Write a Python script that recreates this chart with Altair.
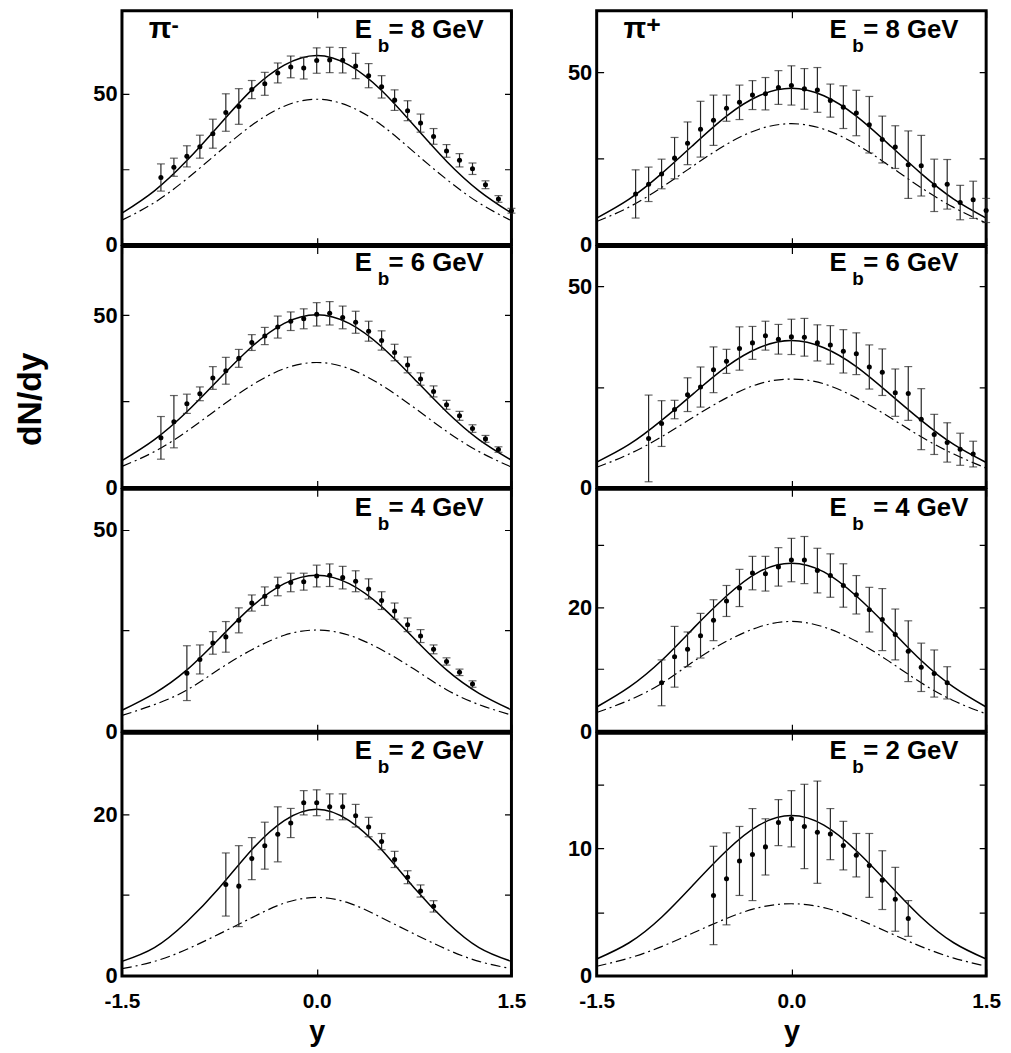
import altair as alt
import pandas as pd

FONT = "Liberation Sans"

X_CURVE = [-1.5, -1.25, -1.0, -0.75, -0.5, -0.25, 0.0, 0.25, 0.5, 0.75, 1.0, 1.25, 1.5]

# ---- pi- , Eb = 8 GeV
PIM8_X = [-1.2, -1.1, -1.0, -0.9, -0.8, -0.7, -0.6, -0.5, -0.4, -0.3, -0.2, -0.1, 0.0, 0.1,
          0.2, 0.3, 0.4, 0.5, 0.6, 0.7, 0.8, 0.9, 1.0, 1.1, 1.2, 1.3, 1.4, 1.5]
PIM8_Y = [22.2, 25.6, 29.2, 32.4, 36.7, 43.7, 45.7, 51.3, 53.2, 56.8, 58.8, 58.4, 60.9, 61.1,
          61.0, 59.1, 55.9, 52.2, 47.8, 44.3, 40.2, 35.8, 31.0, 27.9, 25.1, 19.8, 15.1, 11.2]
PIM8_E = [4.5, 3.0, 3.5, 3.8, 4.8, 6.2, 5.9, 3.0, 3.8, 3.3, 3.6, 3.6, 4.2, 4.2,
          4.2, 4.2, 4.0, 3.7, 3.4, 3.3, 3.0, 2.6, 2.1, 2.2, 1.9, 1.3, 1.1, 0.8]
PIM8_SOLID = [10.4, 17.8, 27.8, 39.6, 51.2, 59.4, 62.6, 59.4, 51.0, 39.4, 27.6, 17.8, 10.4]
PIM8_DD = [8.1, 13.9, 21.8, 30.8, 39.5, 45.8, 48.1, 45.8, 39.5, 30.6, 21.6, 13.8, 7.9]

# ---- pi+ , Eb = 8 GeV
PIP8_X = PIM8_X
PIP8_Y = [14.7, 17.5, 20.5, 25.1, 29.4, 33.5, 36.1, 39.6, 41.3, 43.4, 43.8, 45.6, 46.2, 45.2,
          44.9, 41.8, 39.9, 38.2, 34.8, 30.5, 28.3, 23.2, 22.9, 17.2, 17.5, 12.2, 13.0, 9.9]
PIP8_E = [7.0, 5.0, 4.3, 6.0, 6.2, 8.1, 7.3, 3.8, 5.0, 4.2, 4.7, 4.9, 5.7, 5.9,
          6.5, 4.8, 6.2, 6.6, 8.2, 6.8, 6.2, 9.8, 8.8, 7.6, 7.2, 5.0, 5.4, 3.5]
PIP8_SOLID = [7.7, 13.2, 20.6, 29.1, 37.3, 43.2, 45.4, 43.2, 37.3, 29.1, 20.6, 13.2, 7.7]
PIP8_DD = [6.7, 10.9, 16.6, 23.0, 29.1, 33.5, 35.1, 33.5, 29.1, 23.0, 16.5, 10.8, 6.25]

# ---- pi- , Eb = 6 GeV
PIM6_X = [-1.2, -1.1, -1.0, -0.9, -0.8, -0.7, -0.6, -0.5, -0.4, -0.3, -0.2, -0.1, 0.0, 0.1,
          0.2, 0.3, 0.4, 0.5, 0.6, 0.7, 0.8, 0.9, 1.0, 1.1, 1.2, 1.3, 1.4]
PIM6_Y = [14.4, 19.1, 24.3, 27.2, 31.8, 33.9, 37.5, 42.1, 44.0, 46.6, 48.3, 49.0, 50.3, 50.6,
          49.4, 48.0, 45.4, 42.7, 39.2, 35.6, 31.5, 27.9, 24.0, 20.8, 17.1, 14.1, 11.0]
PIM6_E = [6.2, 7.6, 2.8, 2.0, 3.3, 3.9, 2.6, 2.3, 2.5, 3.2, 2.7, 2.9, 3.4, 3.4,
          3.3, 3.2, 2.9, 2.8, 2.4, 2.3, 1.8, 1.6, 1.3, 1.3, 1.1, 1.0, 0.8]
PIM6_SOLID = [7.8, 13.9, 22.0, 31.6, 40.9, 47.7, 50.2, 47.7, 40.9, 31.6, 22.0, 13.9, 7.9]
PIM6_DD = [6.1, 10.4, 16.3, 23.2, 29.7, 34.5, 36.3, 34.5, 29.7, 23.2, 16.3, 10.4, 5.9]

# ---- pi+ , Eb = 6 GeV
PIP6_X = [-1.1, -1.0, -0.9, -0.8, -0.7, -0.6, -0.5, -0.4, -0.3, -0.2, -0.1, 0.0, 0.1,
          0.2, 0.3, 0.4, 0.5, 0.6, 0.7, 0.8, 0.9, 1.0, 1.1, 1.2, 1.3, 1.4]
PIP6_Y = [12.2, 15.9, 19.4, 23.1, 25.0, 29.3, 31.4, 34.6, 36.0, 37.8, 36.9, 37.5, 37.4,
          36.0, 35.5, 33.9, 33.3, 30.0, 28.7, 23.6, 23.4, 17.0, 13.2, 11.2, 9.5, 8.3]
PIP6_E = [10.8, 5.7, 2.3, 4.2, 5.0, 5.7, 3.0, 5.4, 4.1, 3.6, 3.7, 4.4, 4.7,
          4.5, 4.8, 5.4, 5.2, 5.5, 5.8, 5.9, 6.7, 7.6, 5.0, 4.9, 4.0, 3.2]
PIP6_SOLID = [6.3, 10.7, 16.7, 23.5, 30.1, 34.8, 36.6, 34.8, 30.1, 23.5, 16.7, 10.7, 6.2]
PIP6_DD = [5.0, 8.3, 12.6, 17.6, 22.3, 25.8, 27.0, 25.8, 22.3, 17.6, 12.6, 8.3, 4.8]

# ---- pi- , Eb = 4 GeV
PIM4_X = [-1.0, -0.9, -0.8, -0.7, -0.6, -0.5, -0.4, -0.3, -0.2, -0.1, 0.0, 0.1,
          0.2, 0.3, 0.4, 0.5, 0.6, 0.7, 0.8, 0.9, 1.0, 1.1, 1.2]
PIM4_Y = [14.4, 17.8, 21.9, 23.4, 27.5, 31.8, 33.5, 35.9, 36.9, 37.1, 38.5, 38.7,
          38.1, 37.2, 35.3, 32.4, 29.8, 26.4, 23.6, 20.3, 17.3, 14.6, 11.7]
PIM4_E = [6.8, 3.6, 2.8, 3.8, 3.1, 2.0, 2.3, 2.3, 2.3, 2.1, 2.7, 2.8,
          2.8, 2.6, 2.5, 2.2, 2.0, 1.7, 1.6, 1.1, 0.9, 0.8, 0.8]
PIM4_SOLID = [5.2, 9.4, 15.2, 23.0, 30.9, 36.6, 38.7, 36.6, 30.9, 23.0, 15.2, 9.4, 5.3]
PIM4_DD = [3.9, 6.6, 10.2, 15.4, 20.2, 23.8, 25.1, 23.8, 20.2, 15.4, 10.3, 6.6, 4.0]

# ---- pi+ , Eb = 4 GeV
PIP4_X = PIM4_X
PIP4_Y = [7.8, 12.0, 13.2, 15.4, 17.9, 21.0, 23.1, 25.5, 25.4, 26.5, 27.6, 27.6,
          25.9, 25.1, 23.5, 22.0, 19.6, 18.0, 15.6, 12.9, 10.3, 9.3, 7.8]
PIP4_E = [3.7, 4.9, 2.8, 3.6, 3.3, 2.5, 3.0, 2.7, 2.8, 3.1, 3.5, 3.8,
          3.6, 3.5, 3.5, 3.1, 3.6, 5.0, 4.1, 4.9, 3.9, 3.8, 2.6]
PIP4_SOLID = [3.9, 7.1, 11.4, 16.7, 21.8, 25.7, 27.1, 25.7, 21.8, 16.7, 11.4, 7.1, 3.9]
PIP4_DD = [3.0, 5.0, 7.7, 11.3, 14.5, 16.8, 17.7, 16.8, 14.5, 11.3, 7.8, 4.9, 2.8]

# ---- pi- , Eb = 2 GeV
PIM2_X = [-0.7, -0.6, -0.5, -0.4, -0.3, -0.2, -0.1, 0.0, 0.1, 0.2, 0.3, 0.4, 0.5,
          0.6, 0.7, 0.8, 0.9]
PIM2_Y = [11.3, 11.1, 14.5, 16.1, 17.5, 18.9, 21.4, 21.4, 20.9, 20.9, 19.8, 18.4, 16.6,
          14.4, 12.2, 10.5, 8.6]
PIM2_E = [3.9, 5.0, 2.6, 2.9, 3.4, 1.8, 1.5, 1.6, 1.6, 1.6, 1.4, 1.2, 1.0,
          1.0, 0.8, 0.75, 0.7]
PIM2_SOLID = [1.8, 3.5, 6.7, 10.9, 15.6, 19.2, 20.6, 19.2, 15.6, 10.9, 6.7, 3.5, 1.8]
PIM2_DD = [0.9, 1.8, 3.3, 5.2, 7.2, 9.0, 9.7, 9.0, 7.2, 5.2, 3.3, 1.8, 0.9]

# ---- pi+ , Eb = 2 GeV
PIP2_X = [-0.6, -0.5, -0.4, -0.3, -0.2, -0.1, 0.0, 0.1, 0.2, 0.3, 0.4, 0.5,
          0.6, 0.7, 0.8, 0.9]
PIP2_Y = [6.3, 7.6, 9.0, 9.5, 10.1, 12.0, 12.3, 11.7, 11.25, 11.1, 10.2, 9.45,
          8.65, 7.5, 6.0, 4.5]
PIP2_E = [3.85, 3.6, 2.7, 3.6, 2.2, 1.8, 2.2, 3.3, 4.0, 2.0, 1.9, 1.7,
          2.5, 2.3, 2.5, 1.4]
PIP2_SOLID = [1.33, 2.6, 4.6, 7.2, 9.8, 11.8, 12.55, 11.8, 9.8, 7.2, 4.6, 2.6, 1.33]
PIP2_DD = [0.76, 1.4, 2.3, 3.4, 4.5, 5.35, 5.65, 5.35, 4.5, 3.4, 2.3, 1.4, 0.76]

X_TICKS = [-1.5, 0.0, 1.5]
ENERGY_LABELS = ["8", "6", "4", "2"]
PARTICLES = [("\u03c0", "-"), ("\u03c0", "+")]

PANELS = [
    # row, col, x, y, err, solid, dashdot, ymax, ticks, labelled ticks
    (0, 0, PIM8_X, PIM8_Y, PIM8_E, PIM8_SOLID, PIM8_DD, 77.4, [0, 25, 50], [0, 50]),
    (0, 1, PIP8_X, PIP8_Y, PIP8_E, PIP8_SOLID, PIP8_DD, 67.9, [0, 25, 50], [0, 50]),
    (1, 0, PIM6_X, PIM6_Y, PIM6_E, PIM6_SOLID, PIM6_DD, 70, [0, 25, 50], [0, 50]),
    (1, 1, PIP6_X, PIP6_Y, PIP6_E, PIP6_SOLID, PIP6_DD, 60, [0, 25, 50], [0, 50]),
    (2, 0, PIM4_X, PIM4_Y, PIM4_E, PIM4_SOLID, PIM4_DD, 60, [0, 25, 50], [0, 50]),
    (2, 1, PIP4_X, PIP4_Y, PIP4_E, PIP4_SOLID, PIP4_DD, 39, [0, 10, 20, 30], [0, 20]),
    (3, 0, PIM2_X, PIM2_Y, PIM2_E, PIM2_SOLID, PIM2_DD, 30, [0, 10, 20], [0, 20]),
    (3, 1, PIP2_X, PIP2_Y, PIP2_E, PIP2_SOLID, PIP2_DD, 19, [0, 5, 10, 15], [0, 10]),
]

W = 393
ROW_H = [236, 243, 244, 245]
EB_BASE = [28, 25, 27, 26]
TICK_LEN = 7
BAR_COLOR = "#262626"


def text_layer(txt, x, y, size, align="left", angle=0, baseline="alphabetic"):
    return alt.Chart(pd.DataFrame({"t": [txt]})).mark_text(
        font=FONT, fontWeight="bold", fontSize=size, color="black",
        align=align, baseline=baseline, angle=angle
    ).encode(text="t:N", x=alt.value(x), y=alt.value(y))


def make_panel(row, col, xs, ys, es, solid, dd, ymax, ticks, labelled):
    H = ROW_H[row]
    bottom = row == 3
    pts = pd.DataFrame({"x": xs, "y": ys,
                        "lo": [a - b for a, b in zip(ys, es)],
                        "hi": [a + b for a, b in zip(ys, es)]})
    cur = pd.DataFrame({"x": X_CURVE, "solid": solid, "dd": dd})

    cond = " || ".join(f"datum.value == {v}" for v in labelled)
    xaxis = alt.Axis(
        values=X_TICKS, grid=True, gridColor="black", gridWidth=1.2, gridOpacity=1,
        gridDash=[TICK_LEN, H - 2 * TICK_LEN, TICK_LEN],
        ticks=False, domain=False, labels=bottom,
        labelExpr="datum.value < 0 ? '-' + format(-datum.value, '.1f') : format(datum.value, '.1f')",
        labelFont=FONT, labelFontWeight="bold", labelFontSize=21, labelColor="black",
        labelPadding=15, labelFlush=False, labelOverlap=False,
        title="y" if bottom else None, titleFont=FONT, titleFontWeight="bold",
        titleFontSize=29, titleColor="black", titlePadding=6,
    )
    yaxis = alt.Axis(
        values=ticks, grid=True, gridColor="black", gridWidth=1.2, gridOpacity=1,
        gridDash=[TICK_LEN, W - 2 * TICK_LEN, TICK_LEN],
        ticks=False, domain=False, labelExpr=f"({cond}) ? datum.label : ''",
        labelFont=FONT, labelFontWeight="bold", labelFontSize=22, labelColor="black",
        labelPadding=5, labelFlush=False, labelOverlap=False, title=None,
    )
    xs_ = alt.Scale(domain=[-1.5, 1.5], nice=False, zero=False)
    ys_ = alt.Scale(domain=[0, ymax], nice=False, zero=False)

    xenc = alt.X("x:Q", scale=xs_, axis=xaxis)

    solid_l = alt.Chart(cur).mark_line(color="black", strokeWidth=1.5, interpolate="natural", clip=True).encode(
        x=xenc, y=alt.Y("solid:Q", scale=ys_, axis=yaxis))
    dd_l = alt.Chart(cur).mark_line(color="black", strokeWidth=1.2, strokeDash=[10, 4, 2, 4],
                                    interpolate="natural", clip=True).encode(
        x=xenc, y=alt.Y("dd:Q", scale=ys_, axis=yaxis))
    bars = alt.Chart(pts).mark_rule(color=BAR_COLOR, strokeWidth=1.2).encode(
        x=xenc, y=alt.Y("lo:Q", scale=ys_, axis=yaxis), y2="hi:Q")
    cap_hi = alt.Chart(pts).mark_tick(color=BAR_COLOR, orient="horizontal", size=8, thickness=1.2).encode(
        x=xenc, y=alt.Y("hi:Q", scale=ys_, axis=yaxis))
    cap_lo = alt.Chart(pts).mark_tick(color=BAR_COLOR, orient="horizontal", size=8, thickness=1.2).encode(
        x=xenc, y=alt.Y("lo:Q", scale=ys_, axis=yaxis))
    dots = alt.Chart(pts).mark_circle(color="black", size=26, opacity=1).encode(
        x=xenc, y=alt.Y("y:Q", scale=ys_, axis=yaxis))

    layers = [solid_l, dd_l, bars, cap_hi, cap_lo, dots]

    # Eb annotation
    yb = EB_BASE[row]
    layers.append(text_layer("E", 235, yb, 26))
    layers.append(text_layer("b", 258, yb + 14, 19))
    sep_x = 279 if (row == 2 and col == 1) else 269
    layers.append(text_layer(f"= {ENERGY_LABELS[row]} GeV", sep_x, yb, 26))

    if row == 0:
        sym, sign = PARTICLES[col]
        layers.append(text_layer(sym, 27, 28, 30))
        if sign == "-":
            layers.append(text_layer(sign, 50, 14, 22, baseline="middle"))
        else:
            layers.append(text_layer(sign, 50, 15, 25, baseline="middle"))

    if row == 1 and col == 0:
        layers.append(text_layer("dN/dy", -82, 154, 34, align="center", angle=270))

    return alt.layer(*layers).properties(width=W, height=H)


charts = [make_panel(*p) for p in PANELS]

chart = alt.concat(
    *charts, columns=2, spacing={"row": 2, "column": 86}, bounds="flush"
).properties(
    padding={"left": 4, "top": -4, "right": 0, "bottom": 0}
).configure_view(
    stroke="black", strokeWidth=3
)

chart.save("out.html", embed_options={"renderer": "svg", "actions": False})
